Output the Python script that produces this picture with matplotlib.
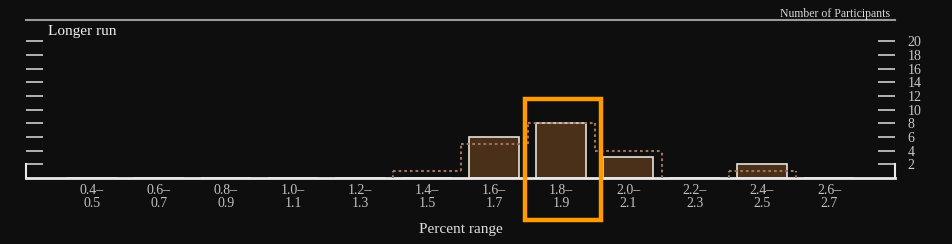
import matplotlib
matplotlib.use("Agg")
import matplotlib.pyplot as plt
from matplotlib.patches import Rectangle

categories = ["0.4–\n0.5", "0.6–\n0.7", "0.8–\n0.9", "1.0–\n1.1", "1.2–\n1.3", "1.4–\n1.5",
              "1.6–\n1.7", "1.8–\n1.9", "2.0–\n2.1", "2.2–\n2.3", "2.4–\n2.5", "2.6–\n2.7"]
longer_run = [0, 0, 0, 0, 0, 0, 6, 8, 3, 0, 2, 0]
comparison = [0, 0, 0, 0, 0, 1, 5, 8, 4, 0, 1, 0]
y_ticks = [2, 4, 6, 8, 10, 12, 14, 16, 18, 20]
highlight = "1.8–\n1.9"

BG = "#0e0e0e"
DOT = "#a3725c"
plt.rcParams['font.family'] = ['Liberation Serif', 'DejaVu Serif']

W, H = 953, 244
fig = plt.figure(figsize=(W / 100, H / 100), dpi=100, facecolor=BG)
ax = fig.add_axes([26 / W, (H - 178) / H, (895 - 26) / W, (178 - 20) / H], facecolor=BG)

x = list(range(len(categories)))
ax.bar(x, longer_run, width=0.76, color="#4a3018", edgecolor="#e6e1da", linewidth=1.2, zorder=2)

# dotted comparison outline (each step spans the full category slot)
ls = (0, (1.3, 1.4))
for i, v in enumerate(comparison):
    if v == 0:
        continue
    prev = comparison[i - 1] if i > 0 else 0
    nxt = comparison[i + 1] if i + 1 < len(comparison) else 0
    ax.plot([i - 0.5, i + 0.5], [v, v], color=DOT, lw=1.5, ls=ls, zorder=3)
    ax.plot([i - 0.5, i - 0.5], [prev, v], color=DOT, lw=1.5, ls=ls, zorder=3)
    if nxt == 0:
        ax.plot([i + 0.5, i + 0.5], [0, v], color=DOT, lw=1.5, ls=ls, zorder=3)

ax.set_xlim(-0.985, 11.985)
ax.set_ylim(0, 23.1)

for s in ["left", "right"]:
    ax.spines[s].set_bounds(0, 2)
    ax.spines[s].set_color("#e8e8e8")
    ax.spines[s].set_linewidth(1.5)
ax.spines["bottom"].set_color("#e8e8e8")
ax.spines["bottom"].set_linewidth(2)
ax.spines["top"].set_color("#9a9a9a")
ax.spines["top"].set_linewidth(1.5)

ax.set_yticks(y_ticks)
ax.tick_params(axis="y", which="both", direction="in", length=12.5, width=1.2, color="#cfcfcf",
               left=True, right=True, labelleft=False, labelright=True, labelsize=10,
               labelcolor="#c8c8c8", pad=9)
ax.set_xticks(x)
ax.set_xticklabels(categories, linespacing=1.0)
ax.tick_params(axis="x", length=0, labelsize=10, labelcolor="#c0c0c0", pad=4)

ax.set_xlabel("Percent range", fontsize=11, color="#e0e0e0", labelpad=10)

fig.text(48 / W, 1 - 31 / H, "Longer run", fontsize=11, color="#f0f0f0", va="center", ha="left")
fig.text(890 / W, 1 - 14 / H, "Number of Participants", fontsize=8.5, color="#d8d8d8",
         va="center", ha="right")

hi = categories.index(highlight)
rect = Rectangle((hi - 0.54, -6.1), 1.14, 17.7, fill=False, edgecolor="#ff9a00",
                 linewidth=3.2, clip_on=False, zorder=5)
ax.add_patch(rect)

fig.savefig("out.png", dpi=100, facecolor=BG)
